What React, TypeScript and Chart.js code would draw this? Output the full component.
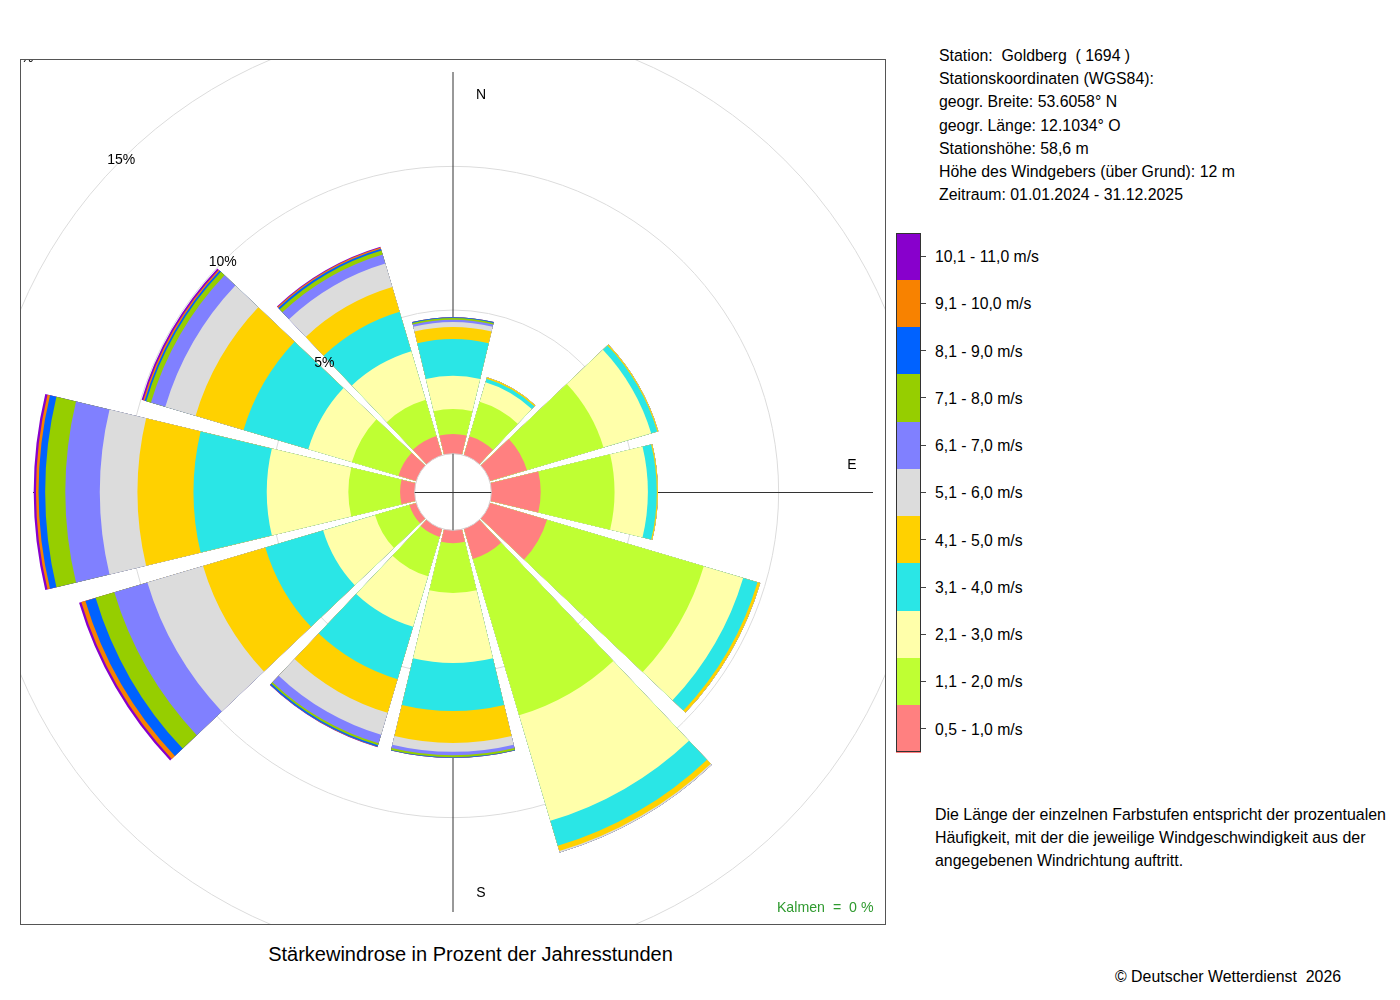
import React, { useEffect, useRef } from 'react';
import { Chart, PolarAreaController, ArcElement, RadialLinearScale } from 'chart.js';

Chart.register(PolarAreaController, ArcElement, RadialLinearScale);

// ---------- data ----------
const DIRECTIONS = ['N', 'NNO', 'ONO', 'O', 'OSO', 'SSO', 'S', 'SSW', 'WSW', 'W', 'WNW', 'NNW'];

const SPEED_CLASSES = [
  '0,5 - 1,0 m/s',
  '1,1 - 2,0 m/s',
  '2,1 - 3,0 m/s',
  '3,1 - 4,0 m/s',
  '4,1 - 5,0 m/s',
  '5,1 - 6,0 m/s',
  '6,1 - 7,0 m/s',
  '7,1 - 8,0 m/s',
  '8,1 - 9,0 m/s',
  '9,1 - 10,0 m/s',
  '10,1 - 11,0 m/s',
];

const SPEED_COLORS = [
  '#FF8080',
  '#BFFF33',
  '#FFFFAA',
  '#2AE6E6',
  '#FFD100',
  '#DCDCDC',
  '#8080FF',
  '#96CE00',
  '#0062FF',
  '#F88200',
  '#8800CC',
];

// percent of hours per direction (N, NNO, ONO, O, OSO, SSO, S, SSW, WSW, W, WNW, NNW)
const V_0_5_1_0 = [0.69, 0.69, 1.35, 1.72, 2.08, 1.10, 0.45, 0.30, 0.25, 0.51, 0.65, 0.70];
const V_1_1_2_0 = [0.87, 1.25, 2.78, 2.57, 5.69, 5.67, 1.73, 1.43, 1.25, 1.80, 1.69, 1.32];
const V_2_1_3_0 = [1.15, 0.71, 1.73, 1.16, 1.43, 3.83, 2.44, 1.83, 1.88, 2.84, 1.58, 1.76];
const V_3_1_4_0 = [1.28, 0.13, 0.22, 0.31, 0.52, 0.91, 1.67, 1.90, 2.10, 2.55, 2.35, 1.43];
const V_4_1_5_0 = [0.42, 0.05, 0.04, 0.04, 0.10, 0.19, 1.11, 1.22, 2.26, 1.95, 1.74, 0.90];
const V_5_1_6_0 = [0.17, 0.00, 0.00, 0.00, 0.00, 0.05, 0.31, 0.80, 2.02, 1.31, 1.10, 0.85];
const V_6_1_7_0 = [0.08, 0.00, 0.00, 0.00, 0.00, 0.00, 0.12, 0.31, 1.20, 1.20, 0.52, 0.33];
const V_7_1_8_0 = [0.06, 0.00, 0.00, 0.00, 0.00, 0.00, 0.07, 0.07, 0.68, 0.70, 0.17, 0.14];
const V_8_1_9_0 = [0.03, 0.00, 0.00, 0.00, 0.00, 0.00, 0.02, 0.05, 0.37, 0.23, 0.06, 0.07];
const V_9_1_10_0 = [0.00, 0.00, 0.00, 0.00, 0.00, 0.00, 0.00, 0.01, 0.15, 0.09, 0.05, 0.04];
const V_10_1_11_0 = [0.00, 0.00, 0.00, 0.00, 0.00, 0.00, 0.00, 0.01, 0.08, 0.08, 0.06, 0.03];

const CLASS_VALUES = [
  V_0_5_1_0, V_1_1_2_0, V_2_1_3_0, V_3_1_4_0, V_4_1_5_0, V_5_1_6_0,
  V_6_1_7_0, V_7_1_8_0, V_8_1_9_0, V_9_1_10_0, V_10_1_11_0,
];

const RING_TICKS = [5, 10, 15, 20];
const RING_LABELS = ['5%', '10%', '15%', '20%'];
const AXIS_LABELS = ['N', 'E', 'S', 'W'];
const CALM_TEXT = 'Kalmen  =  0 %';

const INFO_LINES = [
  'Station:  Goldberg  ( 1694 )',
  'Stationskoordinaten (WGS84):',
  'geogr. Breite: 53.6058° N',
  'geogr. Länge: 12.1034° O',
  'Stationshöhe: 58,6 m',
  'Höhe des Windgebers (über Grund): 12 m',
  'Zeitraum: 01.01.2024 - 31.12.2025',
];
const NOTE_LINES = [
  'Die Länge der einzelnen Farbstufen entspricht der prozentualen',
  'Häufigkeit, mit der die jeweilige Windgeschwindigkeit aus der',
  'angegebenen Windrichtung auftritt.',
];
const TITLE = 'Stärkewindrose in Prozent der Jahresstunden';
const COPYRIGHT = '© Deutscher Wetterdienst  2026';

// ---------- layout / style ----------
const FONT = '"Liberation Sans", Arial, Helvetica, sans-serif';
const SCALE_MIN = -1.332; // leaves the calm circle in the centre
const SCALE_MAX = 20;
const SECTOR_DEG = 27;
const GAP_DEG = 3;
const CANVAS = 1226;
const AXIS_LEN = 420;
const AXIS_LABEL_R = 399;
const AXIS_LABEL_OFF = 28;
const AXIS_LABEL_DY = 2;

const LEG_LEFT = 896;
const LEG_TOP = 232.5;
const LEG_W = 25;
const LEG_BOX_H = 47.27;

const roseOverlay = {
  id: 'roseOverlay',
  beforeDatasetsDraw(chart: any) {
    const s = chart.scales.r;
    const ctx = chart.ctx;
    const cx = s.xCenter;
    const cy = s.yCenter;
    ctx.save();
    ctx.strokeStyle = '#333';
    ctx.lineWidth = 1;
    ctx.beginPath();
    ctx.moveTo(cx, cy - AXIS_LEN);
    ctx.lineTo(cx, cy + AXIS_LEN);
    ctx.moveTo(cx - AXIS_LEN, cy + 0.5);
    ctx.lineTo(cx + AXIS_LEN, cy + 0.5);
    ctx.stroke();
    ctx.fillStyle = '#000';
    ctx.font = `14px ${FONT}`;
    ctx.textAlign = 'center';
    ctx.textBaseline = 'middle';
    const pos = [
      [cx + AXIS_LABEL_OFF, cy - AXIS_LABEL_R + AXIS_LABEL_DY],
      [cx + AXIS_LABEL_R, cy - AXIS_LABEL_OFF + AXIS_LABEL_DY / 2],
      [cx + AXIS_LABEL_OFF, cy + AXIS_LABEL_R + AXIS_LABEL_DY],
      [cx - AXIS_LABEL_R, cy - AXIS_LABEL_OFF + AXIS_LABEL_DY / 2],
    ];
    AXIS_LABELS.forEach((t, i) => ctx.fillText(t, pos[i][0], pos[i][1]));
    ctx.restore();
  },
  afterDatasetsDraw(chart: any) {
    const s = chart.scales.r;
    const ctx = chart.ctx;
    const cx = s.xCenter;
    const cy = s.yCenter;
    const hole = s.getDistanceFromCenterForValue(0);
    ctx.save();
    ctx.beginPath();
    ctx.arc(cx, cy, hole, 0, Math.PI * 2);
    ctx.fillStyle = '#fff';
    ctx.fill();
    ctx.strokeStyle = '#d4d4d4';
    ctx.lineWidth = 1;
    ctx.stroke();
    ctx.strokeStyle = '#333';
    ctx.beginPath();
    ctx.moveTo(cx, cy - hole);
    ctx.lineTo(cx, cy + hole);
    ctx.moveTo(cx - hole, cy + 0.5);
    ctx.lineTo(cx + hole, cy + 0.5);
    ctx.stroke();
    ctx.fillStyle = '#000';
    ctx.font = `14px ${FONT}`;
    ctx.textAlign = 'center';
    ctx.textBaseline = 'middle';
    RING_TICKS.forEach((v, i) => {
      const r = s.getDistanceFromCenterForValue(v);
      ctx.fillText(RING_LABELS[i], cx - r * Math.SQRT1_2, cy - r * Math.SQRT1_2);
    });
    ctx.restore();
  },
};

export default function App() {
  const ref = useRef<HTMLCanvasElement | null>(null);

  useEffect(() => {
    if (!ref.current) return;
    const cumulative = CLASS_VALUES.map((_, k) =>
      DIRECTIONS.map((_, d) => CLASS_VALUES.slice(0, k + 1).reduce((sum, arr) => sum + arr[d], 0))
    );
    const datasets = CLASS_VALUES.map((_, k) => ({
      label: SPEED_CLASSES[k],
      data: DIRECTIONS.flatMap((_, d) => [cumulative[k][d], SCALE_MIN]),
      backgroundColor: SPEED_COLORS[k],
      borderWidth: 0,
      angle: (c: any) => (c.dataIndex % 2 === 0 ? SECTOR_DEG : GAP_DEG),
    }));
    const chart = new Chart(ref.current, {
      type: 'polarArea',
      data: {
        labels: DIRECTIONS.flatMap((d) => [d, '']),
        datasets: datasets as any,
      },
      options: {
        responsive: false,
        animation: false,
        events: [],
        layout: { padding: 0 },
        plugins: { legend: { display: false }, tooltip: { enabled: false } } as any,
        scales: {
          r: {
            min: SCALE_MIN,
            max: SCALE_MAX,
            startAngle: -SECTOR_DEG / 2,
            ticks: { display: false },
            grid: { color: '#dcdcdc', lineWidth: 1, circular: true },
            angleLines: { display: false },
            pointLabels: { display: false },
            afterBuildTicks: (scale: any) => {
              scale.ticks = RING_TICKS.map((v) => ({ value: v }));
            },
          } as any,
        },
      },
      plugins: [roseOverlay],
    });
    return () => chart.destroy();
  }, []);

  const legendRows = SPEED_CLASSES.map((label, i) => ({ label, color: SPEED_COLORS[i] })).reverse();

  return (
    <div
      style={{
        position: 'absolute',
        left: 0,
        top: 0,
        width: 1400,
        height: 1000,
        background: '#fff',
        fontFamily: FONT,
        color: '#000',
        overflow: 'hidden',
      }}
    >
      <div
        style={{
          position: 'absolute',
          left: 20,
          top: 59,
          width: 866,
          height: 866,
          boxSizing: 'border-box',
          border: '1px solid #555',
          overflow: 'hidden',
        }}
      >
        <canvas
          ref={ref}
          width={CANVAS}
          height={CANVAS}
          style={{ position: 'absolute', left: -181, top: -181, width: CANVAS, height: CANVAS }}
        />
      </div>

      <div
        style={{
          position: 'absolute',
          left: 700,
          width: 173.5,
          top: 896,
          fontSize: 14.2,
          lineHeight: '23px',
          textAlign: 'right',
          color: '#2f9a2f',
          whiteSpace: 'pre',
        }}
      >
        {CALM_TEXT}
      </div>

      <div style={{ position: 'absolute', left: 939, top: 44, fontSize: 15.85, lineHeight: '23.2px', whiteSpace: 'pre' }}>
        {INFO_LINES.map((l, i) => (
          <div key={i}>{l}</div>
        ))}
      </div>

      {legendRows.map((r, i) => (
        <React.Fragment key={i}>
          <div
            style={{
              position: 'absolute',
              left: LEG_LEFT,
              top: LEG_TOP + i * LEG_BOX_H,
              width: LEG_W,
              height: LEG_BOX_H + 0.5,
              background: r.color,
            }}
          />
          <div
            style={{
              position: 'absolute',
              left: LEG_LEFT + LEG_W,
              top: LEG_TOP + (i + 0.5) * LEG_BOX_H - 0.5,
              width: 5,
              height: 1,
              background: '#444',
            }}
          />
          <div
            style={{
              position: 'absolute',
              left: 935,
              top: LEG_TOP + i * LEG_BOX_H + 0.5,
              fontSize: 15.75,
              lineHeight: `${LEG_BOX_H}px`,
              whiteSpace: 'pre',
            }}
          >
            {r.label}
          </div>
        </React.Fragment>
      ))}
      <div
        style={{
          position: 'absolute',
          left: LEG_LEFT,
          top: LEG_TOP,
          width: LEG_W,
          height: LEG_BOX_H * SPEED_CLASSES.length,
          boxSizing: 'border-box',
          border: '1px solid #333',
        }}
      />

      <div style={{ position: 'absolute', left: 935, top: 802.5, fontSize: 15.95, lineHeight: '23.1px', whiteSpace: 'pre' }}>
        {NOTE_LINES.map((l, i) => (
          <div key={i}>{l}</div>
        ))}
      </div>

      <div
        style={{
          position: 'absolute',
          left: 0,
          width: 941,
          top: 942.5,
          fontSize: 20,
          lineHeight: '22px',
          textAlign: 'center',
          whiteSpace: 'pre',
        }}
      >
        {TITLE}
      </div>

      <div style={{ position: 'absolute', left: 1115, top: 964.5, fontSize: 15.9, lineHeight: '23.1px', whiteSpace: 'pre' }}>
        {COPYRIGHT}
      </div>
    </div>
  );
}
